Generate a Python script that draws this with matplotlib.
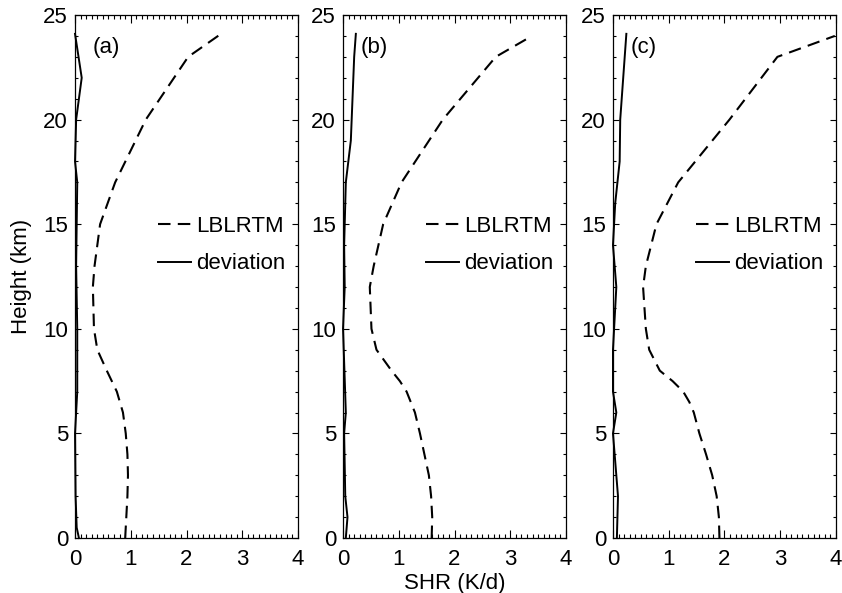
import matplotlib
matplotlib.use("Agg")
import matplotlib.pyplot as plt
from matplotlib.ticker import MultipleLocator

plt.rcParams['font.family'] = ['Liberation Sans', 'DejaVu Sans']

# LBLRTM profiles (K/d) vs height (km)
lbl_a_h = [0, 1, 2, 3, 4, 5, 6, 7, 8, 9, 10, 12, 13, 15, 17, 20, 23, 24.1]
lbl_a_x = [0.90, 0.92, 0.94, 0.95, 0.94, 0.91, 0.86, 0.75, 0.57, 0.40, 0.34, 0.32, 0.35, 0.45, 0.72, 1.27, 2.03, 2.62]

lbl_b_h = [0, 1, 2, 3, 4, 5, 6, 7, 7.5, 8, 9, 10, 12, 13, 15, 17, 20, 23, 24.0]
lbl_b_x = [1.59, 1.60, 1.58, 1.54, 1.46, 1.38, 1.29, 1.14, 1.02, 0.87, 0.60, 0.51, 0.48, 0.55, 0.72, 1.05, 1.79, 2.74, 3.39]

lbl_c_h = [0, 1, 2, 3, 4, 5, 6, 6.5, 7, 7.5, 8, 9, 10, 12, 13, 15, 17, 20, 23, 24.0]
lbl_c_x = [1.91, 1.90, 1.86, 1.78, 1.67, 1.55, 1.45, 1.37, 1.26, 1.07, 0.84, 0.65, 0.59, 0.54, 0.59, 0.78, 1.17, 2.09, 2.95, 3.98]

# deviation profiles
dev_a_h = [0, 0.5, 2, 5, 7, 10, 13, 17, 18, 20, 22, 24.1]
dev_a_x = [0.07, 0.03, 0.01, 0.0, 0.04, 0.04, 0.02, 0.04, 0.0, 0.02, 0.12, 0.0]

dev_b_h = [0, 1, 2, 5, 6, 10, 12, 14, 17, 19, 23, 24.1]
dev_b_x = [0.05, 0.08, 0.04, 0.02, 0.05, 0.0, 0.03, 0.02, 0.05, 0.14, 0.20, 0.23]

dev_c_h = [0, 2, 5, 6, 7, 9, 12, 14, 16, 18, 20, 24.1]
dev_c_x = [0.07, 0.09, 0.0, 0.06, 0.0, 0.0, 0.06, 0.0, 0.04, 0.12, 0.13, 0.24]

panels = ['(a)', '(b)', '(c)']
x_ticks = [0, 1, 2, 3, 4]
y_ticks = [0, 5, 10, 15, 20, 25]

FS = 16

fig = plt.figure(figsize=(8.42, 5.93), dpi=100)
lefts = [0.0891, 0.4074, 0.728]
width = 0.2648
bottom = 0.0927
height = 0.882

lbls = [(lbl_a_x, lbl_a_h), (lbl_b_x, lbl_b_h), (lbl_c_x, lbl_c_h)]
devs = [(dev_a_x, dev_a_h), (dev_b_x, dev_b_h), (dev_c_x, dev_c_h)]

for i in range(3):
    ax = fig.add_axes([lefts[i], bottom, width, height])
    lx, lh = lbls[i]
    dx, dh = devs[i]
    ax.plot(lx, lh, color='black', lw=1.5, dashes=(6.0, 3.5), label='LBLRTM', clip_on=False)
    ax.plot(dx, dh, color='black', lw=1.4, label='deviation', clip_on=False)
    ax.set_xlim(0, 4)
    ax.set_ylim(0, 25)
    ax.set_xticks(x_ticks)
    ax.set_yticks(y_ticks)
    ax.xaxis.set_minor_locator(MultipleLocator(0.1))
    ax.yaxis.set_minor_locator(MultipleLocator(1))
    ax.tick_params(axis='x', which='major', direction='in', length=6, width=0.8,
                   top=True, bottom=True, labelsize=FS, pad=8)
    ax.tick_params(axis='x', which='minor', direction='in', length=3, width=0.8,
                   top=True, bottom=True)
    ax.tick_params(axis='y', which='major', direction='in', length=4, width=0.8,
                   left=True, right=True, labelsize=FS, pad=5)
    ax.tick_params(axis='y', which='minor', direction='in', length=2.5, width=0.8,
                   left=True, right=True)
    for s in ax.spines.values():
        s.set_linewidth(0.9)
    ax.text(0.32, 23.45, panels[i], fontsize=FS, va='center', ha='left')
    ax.legend(loc='center left', bbox_to_anchor=(0.372, 14.0 / 25), frameon=False,
              fontsize=FS, handlelength=1.5, handletextpad=0.2, labelspacing=0.75,
              borderaxespad=0, borderpad=0)
    if i == 0:
        ax.set_ylabel('Height (km)', fontsize=FS, labelpad=8)
    if i == 1:
        ax.set_xlabel('SHR (K/d)', fontsize=FS, labelpad=2)

fig.savefig('out.png', dpi=100)
